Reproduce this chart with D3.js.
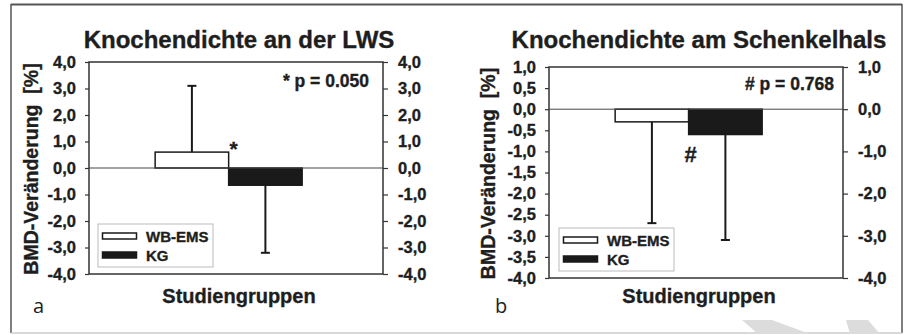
<!DOCTYPE html>
<html>
<head>
<meta charset="utf-8">
<script src="https://d3js.org/d3.v7.min.js"></script>
<style>
body { margin: 0; background: #fff; }
text { font-family: "Liberation Sans", Arial, sans-serif; font-weight: bold; fill: #1e1e1e;
       stroke: #1e1e1e; stroke-width: 0.35px; }
</style>
</head>
<body>
<svg id="chart" width="906" height="335"></svg>
<script>
// values
const groups = ["WB-EMS", "KG"];
const lwsMean = [0.6, -0.65];
const lwsErrEnd = [3.1, -3.2];
const halsMean = [-0.3, -0.6];
const halsErrEnd = [-2.7, -3.1];
const lwsTicks = [4, 3, 2, 1, 0, -1, -2, -3, -4];
const halsTicksLeft = [1, 0.5, 0, -0.5, -1, -1.5, -2, -2.5, -3, -3.5, -4];
const halsTicksRight = [1, 0, -1, -2, -3, -4];
const titles = ["Knochendichte an der LWS", "Knochendichte am Schenkelhals"];
const pTexts = ["* p = 0.050", "# p = 0.768"];
const markers = ["*", "#"];
const letters = ["a", "b"];
const yLabel = "BMD-Veränderung  [%]";
const xLabel = "Studiengruppen";

const svg = d3.select("#chart");
const fmt = d => d.toFixed(1).replace(".", ",");

// outer frame
svg.append("line").attr("x1", 11).attr("x2", 902).attr("y1", 4.5).attr("y2", 4.5)
  .attr("stroke", "#555").attr("stroke-width", 2);
svg.append("line").attr("x1", 11).attr("x2", 11).attr("y1", 4).attr("y2", 333)
  .attr("stroke", "#555").attr("stroke-width", 1.5);
svg.append("line").attr("x1", 902).attr("x2", 902).attr("y1", 4).attr("y2", 333)
  .attr("stroke", "#555").attr("stroke-width", 1.5);
svg.append("line").attr("x1", 11).attr("x2", 902).attr("y1", 333).attr("y2", 333)
  .attr("stroke", "#ccc").attr("stroke-width", 1.5);

// watermark pieces
svg.append("path").attr("d", "M742,320 L772,320 L810,334 L758,334 Z").attr("fill", "#dcdcdc");
svg.append("path").attr("d", "M846,320 L868,320 L880,334 L850,334 Z").attr("fill", "#dcdcdc");

const panels = [
  { left: 89, top: 62, w: 294, h: 212, domain: [-4, 4], ticksL: lwsTicks, ticksR: lwsTicks,
    mean: lwsMean, err: lwsErrEnd, pBase: 25, pRight: 14, mark: { dx: 5, y: 156, size: 21 },
    legend: { dx: 9, dy: 162 }, ylabX: 38, idx: 0 },
  { left: 549, top: 67, w: 294, h: 211, domain: [-4, 1], ticksL: halsTicksLeft, ticksR: halsTicksRight,
    mean: halsMean, err: halsErrEnd, pBase: 23, pRight: 9, mark: { dx: 2, y: 162, size: 22 },
    legend: { dx: 10, dy: 161 }, ylabX: 495, idx: 1 }
];

panels.forEach(p => {
  const g = svg.append("g").attr("transform", `translate(${p.left},${p.top})`);
  const y = d3.scaleLinear().domain(p.domain).range([p.h, 0]);
  const x = d3.scaleBand().domain(groups).range([p.w * 0.225, p.w * 0.725]);

  // axes
  const axL = g.append("g")
    .call(d3.axisLeft(y).tickValues(p.ticksL).tickFormat(fmt).tickSize(4).tickSizeOuter(0).tickPadding(9));
  const axR = g.append("g").attr("transform", `translate(${p.w},0)`)
    .call(d3.axisRight(y).tickValues(p.ticksR).tickFormat(fmt).tickSize(5).tickSizeOuter(0).tickPadding(10));
  [axL, axR].forEach(a => {
    a.select(".domain").remove();
    a.selectAll(".tick line").attr("stroke", "#333").attr("stroke-width", 1.2);
    a.selectAll(".tick text").style("font-size", "16.5px").attr("fill", "#1e1e1e");
  });

  // plot frame
  g.append("rect").attr("width", p.w).attr("height", p.h)
    .attr("fill", "none").attr("stroke", "#333").attr("stroke-width", 1.5);

  // bars
  const data = groups.map((k, i) => ({ k, mean: p.mean[i], err: p.err[i] }));
  g.selectAll(".bar").data(data).join("rect")
    .attr("x", d => x(d.k))
    .attr("y", d => y(Math.max(0, d.mean)))
    .attr("width", x.bandwidth())
    .attr("height", d => Math.abs(y(d.mean) - y(0)))
    .attr("fill", (d, i) => i === 0 ? "#fff" : "#1a1a1a")
    .attr("stroke", "#1a1a1a").attr("stroke-width", 1.5);

  // zero line
  g.append("line").attr("x1", 0).attr("x2", p.w).attr("y1", y(0)).attr("y2", y(0))
    .attr("stroke", "#444").attr("stroke-width", 1);

  // error bars
  const cx = d => x(d.k) + x.bandwidth() / 2;
  g.selectAll(".err").data(data).join("line")
    .attr("x1", cx).attr("x2", cx)
    .attr("y1", d => y(d.mean)).attr("y2", d => y(d.err))
    .attr("stroke", "#1a1a1a").attr("stroke-width", 2);
  g.selectAll(".cap").data(data).join("line")
    .attr("x1", d => cx(d) - 4.5).attr("x2", d => cx(d) + 4.5)
    .attr("y1", d => y(d.err)).attr("y2", d => y(d.err))
    .attr("stroke", "#1a1a1a").attr("stroke-width", 2);

  // significance marker
  g.append("text").attr("x", x(groups[1]) + p.mark.dx).attr("y", p.mark.y - p.top)
    .attr("text-anchor", "middle").style("font-size", p.mark.size + "px").text(markers[p.idx]);

  // p value
  g.append("text").attr("x", p.w - p.pRight).attr("y", p.pBase)
    .attr("text-anchor", "end").style("font-size", "17.5px").text(pTexts[p.idx]);

  // legend
  const lg = g.append("g").attr("transform", `translate(${p.legend.dx},${p.legend.dy})`);
  lg.append("rect").attr("width", 115).attr("height", 43)
    .attr("fill", "#fff").attr("stroke", "#bbb").attr("stroke-width", 1);
  groups.forEach((k, i) => {
    lg.append("rect").attr("x", 4.5).attr("y", 9 + i * 19).attr("width", 34).attr("height", 6)
      .attr("fill", i === 0 ? "#fff" : "#1a1a1a").attr("stroke", "#1a1a1a").attr("stroke-width", 1.5);
    lg.append("text").attr("x", 48).attr("y", 17.5 + i * 19).style("font-size", "15px").text(k);
  });

  // title
  svg.append("text").attr("x", p.left + p.w / 2 + 3).attr("y", 48)
    .attr("text-anchor", "middle").style("font-size", "24px").text(titles[p.idx]);

  // x label
  svg.append("text").attr("x", p.left + p.w / 2 + 3).attr("y", 303)
    .attr("text-anchor", "middle").style("font-size", "20px").text(xLabel);

  // y label
  svg.append("text")
    .attr("transform", `translate(${p.ylabX},${p.top + p.h / 2 + 1}) rotate(-90)`)
    .attr("text-anchor", "middle").style("font-size", "19.5px").style("white-space", "pre")
    .attr("xml:space", "preserve").text(yLabel);

  // panel letter
  svg.append("text").attr("x", p.idx === 0 ? 33 : 495).attr("y", 313)
    .style("font-family", "'Open Sans', sans-serif").style("font-weight", "normal")
    .style("stroke-width", "0").style("font-size", "20px").text(letters[p.idx]);
});
</script>
</body>
</html>
